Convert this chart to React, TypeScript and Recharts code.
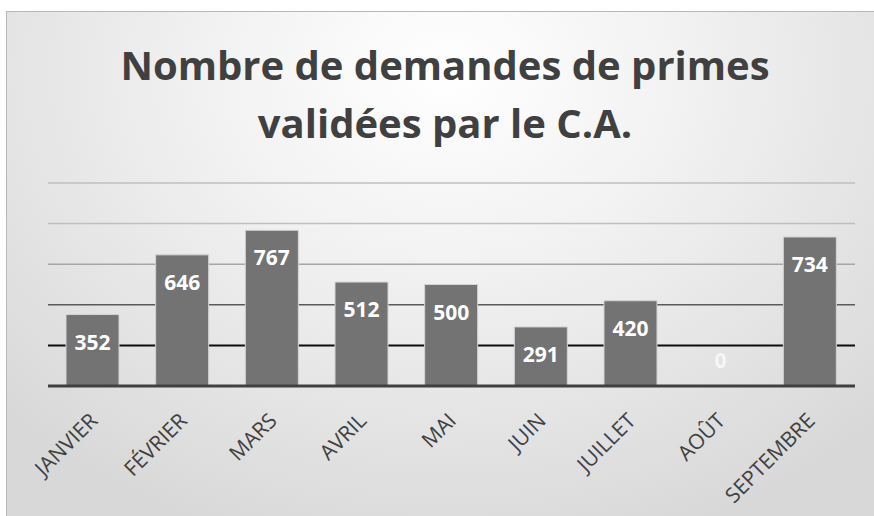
import React from 'react';
import { BarChart, Bar, XAxis, YAxis, CartesianGrid, LabelList, ReferenceDot } from 'recharts';

const MONTHS = ['JANVIER', 'FÉVRIER', 'MARS', 'AVRIL', 'MAI', 'JUIN', 'JUILLET', 'AOÛT', 'SEPTEMBRE'];
const DEMANDES = [352, 646, 767, 512, 500, 291, 420, 0, 734];
const GRID_TICKS = [200, 400, 600, 800, 1000];
const GRID_COLORS = ['#0d0d0d', '#5a5a5a', '#a6a6a6', '#bfbfbf', '#bfbfbf'];
const GRID_WIDTHS = [2, 1.5, 1.5, 1.5, 1.5];

const data = MONTHS.map((m, i) => ({ month: m, value: DEMANDES[i] }));

const FONT = '"Open Sans", "Noto Sans", sans-serif';

const MonthTick = (props: any) => {
  const { x, y, payload } = props;
  const ax = x + 6;
  const ay = y + 36;
  return (
    <text x={ax} y={ay} textAnchor="end" transform={`rotate(-45, ${ax}, ${ay})`}
      fontFamily={FONT} fontSize={21} fill="#404040">
      {payload.value}
    </text>
  );
};

const ValueLabel = (props: any) => {
  const { x, y, width, value } = props;
  if (!value) return null;
  return (
    <text x={x + width / 2} y={y + 35} textAnchor="middle" fontFamily={FONT}
      fontWeight={700} fontSize={21} fill="#ffffff">
      {value}
    </text>
  );
};

// label for empty months, sits just above the axis
const ZeroLabel = (props: any) => {
  const { viewBox } = props;
  const cx = viewBox.cx ?? viewBox.x + (viewBox.width || 0) / 2;
  const cy = viewBox.cy ?? viewBox.y;
  return (
    <text x={cx} y={cy - 18} textAnchor="middle" fontFamily={FONT}
      fontWeight={700} fontSize={21} fill="#f6f6f6">
      0
    </text>
  );
};

const gridLine = (p: any) => (
  <line key={p.key} x1={p.x1} x2={p.x2} y1={p.y1} y2={p.y2}
    stroke={GRID_COLORS[p.index] || '#bfbfbf'} strokeWidth={GRID_WIDTHS[p.index] || 1.5} />
);

export default function App() {
  return (
    <div style={{ position: 'absolute', left: 0, top: 0, width: 874, height: 516, overflow: 'hidden', background: '#ffffff' }}>
      <div style={{
        position: 'absolute', left: 6, top: 11, width: 880, height: 520,
        border: '1px solid #b8b8b8',
        background: 'radial-gradient(ellipse 70% 95% at 50% 12%, #ffffff 0%, #f1f1f1 40%, #d8d8d8 100%)',
      }} />
      <div style={{
        position: 'absolute', left: 0, top: 36, width: 890, textAlign: 'center',
        fontFamily: FONT, fontWeight: 700, fontSize: 40, lineHeight: '58px', color: '#404040',
      }}>
        Nombre de demandes de primes<br />validées par le C.A.
      </div>
      <div style={{ position: 'absolute', left: 0, top: 0 }}>
        <BarChart width={874} height={516} data={data}
          margin={{ top: 183, right: 19, bottom: 70, left: 48 }}>
          <CartesianGrid vertical={false} horizontalValues={GRID_TICKS} horizontal={gridLine} />
          <YAxis hide domain={[0, 1000]} ticks={GRID_TICKS} />
          <XAxis dataKey="month" height={60} interval={0} tickLine={false} tickSize={0} tickMargin={0}
            axisLine={{ stroke: '#404040', strokeWidth: 3 }} tick={<MonthTick />} />
          <Bar dataKey="value" fill="#737373" stroke="#d4d4d4" strokeWidth={1} barSize={53}
            isAnimationActive={false}>
            <LabelList dataKey="value" content={<ValueLabel />} />
          </Bar>
          {data.filter(d => d.value === 0).map(d => (
            <ReferenceDot key={d.month} x={d.month} y={0} r={0} stroke="none" fill="none"
              label={<ZeroLabel />} />
          ))}
        </BarChart>
      </div>
    </div>
  );
}
